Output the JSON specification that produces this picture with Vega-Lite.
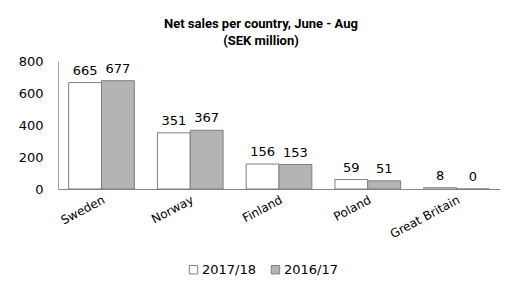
{
  "$schema": "https://vega.github.io/schema/vega-lite/v6.json",
  "width": 442,
  "height": 128,
  "autosize": "none",
  "padding": {"left": 58, "top": 61, "right": 5, "bottom": 95},
  "background": "white",
  "title": {
    "text": ["Net sales per country, June - Aug", "(SEK million)"],
    "font": "Roboto",
    "fontSize": 13,
    "fontWeight": "bold",
    "color": "black",
    "anchor": "middle",
    "dx": -18,
    "offset": 7,
    "lineHeight": 17
  },
  "data": {
    "values": [
      {"country": "Sweden", "year": "2017/18", "sales": 665},
      {"country": "Sweden", "year": "2016/17", "sales": 677},
      {"country": "Norway", "year": "2017/18", "sales": 351},
      {"country": "Norway", "year": "2016/17", "sales": 367},
      {"country": "Finland", "year": "2017/18", "sales": 156},
      {"country": "Finland", "year": "2016/17", "sales": 153},
      {"country": "Poland", "year": "2017/18", "sales": 59},
      {"country": "Poland", "year": "2016/17", "sales": 51},
      {"country": "Great Britain", "year": "2017/18", "sales": 8},
      {"country": "Great Britain", "year": "2016/17", "sales": 0}
    ]
  },
  "encoding": {
    "x": {
      "field": "country",
      "type": "nominal",
      "sort": ["Sweden", "Norway", "Finland", "Poland", "Great Britain"],
      "scale": {"paddingInner": 0.26, "paddingOuter": 0.12},
      "axis": {
        "title": null,
        "labelAngle": -28,
        "labelFont": "DejaVu Sans",
        "labelFontSize": 12,
        "labelColor": "black",
        "labelPadding": 5,
        "ticks": false,
        "domainColor": "#868686",
        "labelOverlap": false
      }
    },
    "xOffset": {"field": "year", "sort": ["2017/18", "2016/17"]},
    "y": {
      "field": "sales",
      "type": "quantitative",
      "scale": {"domain": [0, 800], "nice": false},
      "axis": {
        "title": null,
        "values": [0, 200, 400, 600, 800],
        "grid": false,
        "ticks": false,
        "labelFont": "DejaVu Sans",
        "labelFontSize": 13,
        "labelColor": "black",
        "labelPadding": 15,
        "domainColor": "#a6a6a6"
      }
    }
  },
  "layer": [
    {
      "mark": {"type": "bar", "stroke": "#7f7f7f", "strokeWidth": 1},
      "encoding": {
        "color": {
          "field": "year",
          "type": "nominal",
          "scale": {"domain": ["2017/18", "2016/17"], "range": ["#ffffff", "#b4b4b4"]},
          "legend": {
            "title": null,
            "orient": "none",
            "legendX": 129,
            "legendY": 202,
            "direction": "horizontal",
            "symbolType": "square",
            "symbolSize": 70,
            "symbolStrokeColor": "#7f7f7f",
            "symbolStrokeWidth": 1,
            "labelFont": "DejaVu Sans",
            "labelFontSize": 13,
            "labelColor": "black",
            "labelOffset": 2,
            "columnPadding": 12
          }
        }
      }
    },
    {
      "mark": {"type": "text", "baseline": "bottom", "dy": -5, "font": "DejaVu Sans", "fontSize": 13, "color": "black"},
      "encoding": {"text": {"field": "sales", "type": "quantitative"}}
    }
  ],
  "config": {"view": {"stroke": null}}
}
